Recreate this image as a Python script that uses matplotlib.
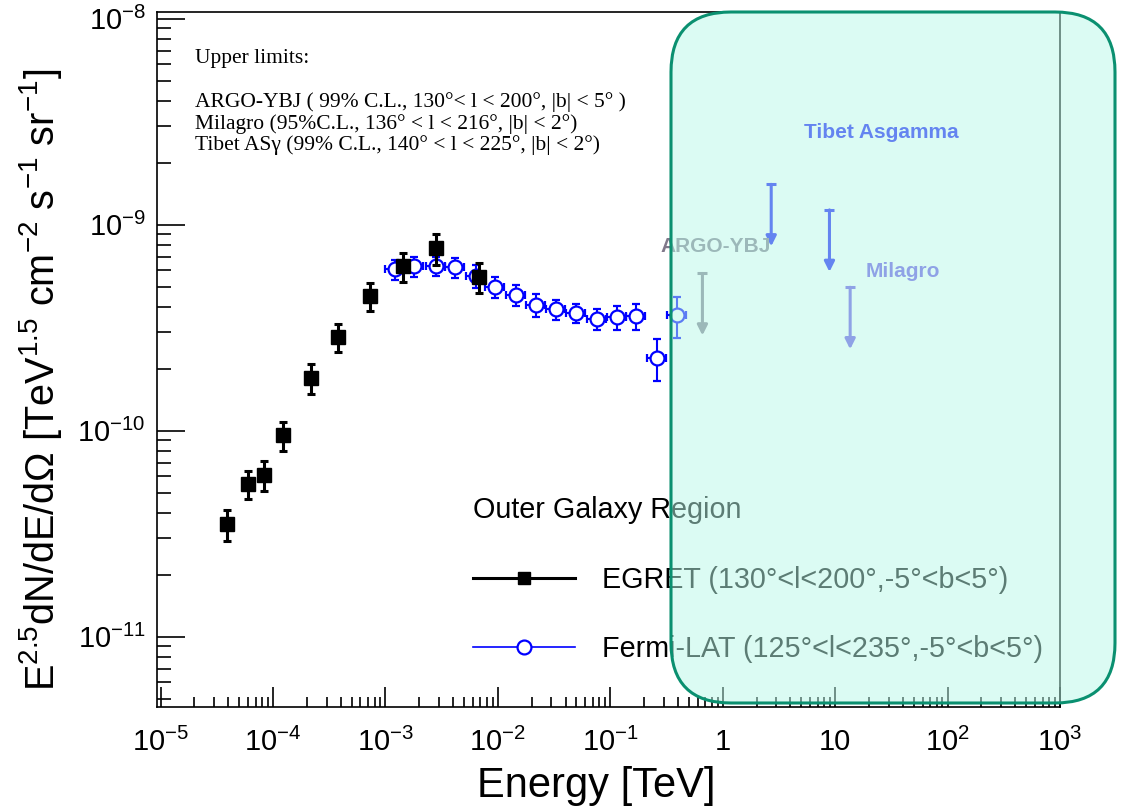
import numpy as np
import matplotlib
matplotlib.use("Agg")
import matplotlib.pyplot as plt
from matplotlib import font_manager
from matplotlib.lines import Line2D
from matplotlib.patches import FancyBboxPatch
from matplotlib.ticker import FixedLocator, FixedFormatter, LogLocator, NullFormatter

# EGRET (130<l<200, -5<b<5)
egret_e = [3.9e-5, 5.96e-5, 8.3e-5, 1.24e-4, 2.18e-4, 3.79e-4, 7.3e-4, 1.43e-3, 2.8e-3, 6.8e-3]
egret_flux = [3.52e-11, 5.5e-11, 6.1e-11, 9.5e-11, 1.8e-10, 2.85e-10, 4.5e-10, 6.3e-10, 7.7e-10, 5.6e-10]
egret_err = [0.6e-11, 0.85e-11, 1.0e-11, 1.5e-11, 0.3e-10, 0.45e-10, 0.7e-10, 1.0e-10, 1.3e-10, 0.95e-10]

# Fermi-LAT (125<l<235, -5<b<5)
fermi_e = [1.21e-3, 1.79e-3, 2.81e-3, 4.15e-3, 6.37e-3, 9.4e-3, 1.44e-2, 2.18e-2, 3.28e-2,
           4.94e-2, 7.59e-2, 0.114, 0.169, 0.259, 0.39]
fermi_flux = [6.07e-10, 6.30e-10, 6.30e-10, 6.21e-10, 5.64e-10, 5.0e-10, 4.56e-10, 4.08e-10, 3.88e-10,
              3.74e-10, 3.49e-10, 3.55e-10, 3.60e-10, 2.26e-10, 3.65e-10]
fermi_err = [0.68e-10, 0.7e-10, 0.65e-10, 0.68e-10, 0.72e-10, 0.6e-10, 0.55e-10, 0.52e-10, 0.42e-10,
             0.4e-10, 0.42e-10, 0.46e-10, 0.53e-10, 0.52e-10, 0.82e-10]
fermi_halfbin = 0.085  # half bin width in dex

# upper limits
ul_exp = ["ARGO-YBJ", "Tibet ASgamma", "Tibet ASgamma", "Milagro"]
ul_e = [0.66, 2.7, 8.9, 13.6]
ul_flux = [5.8e-10, 1.57e-9, 1.18e-9, 4.97e-10]
ul_colors = {"ARGO-YBJ": "#80788a", "Tibet ASgamma": "#1010f8", "Milagro": "#664ce4"}

xtick_vals = [1e-5, 1e-4, 1e-3, 1e-2, 1e-1, 1, 10, 1e2, 1e3]
xtick_labels = ["$10^{-5}$", "$10^{-4}$", "$10^{-3}$", "$10^{-2}$", "$10^{-1}$", "1", "10", "$10^{2}$", "$10^{3}$"]
ytick_vals = [1e-11, 1e-10, 1e-9, 1e-8]
ytick_labels = ["$10^{-11}$", "$10^{-10}$", "$10^{-9}$", "$10^{-8}$"]

names = {f.name for f in font_manager.fontManager.ttflist}
sans = "Liberation Sans Narrow" if "Liberation Sans Narrow" in names else "Liberation Sans"
plt.rcParams["font.family"] = [sans, "DejaVu Sans"]
plt.rcParams["mathtext.fontset"] = "custom"
plt.rcParams["mathtext.rm"] = sans
plt.rcParams["mathtext.it"] = sans + ":italic"
plt.rcParams["mathtext.bf"] = sans + ":bold"

fig = plt.figure(figsize=(11.32, 8.09), dpi=100)
ax = fig.add_axes([0.1387, 0.1261, 0.7977, 0.8591])
ax.set_xscale("log")
ax.set_yscale("log")
ax.set_xlim(9.3e-6, 1e3)
ax.set_ylim(4.56e-12, 1.078e-8)

fe = np.array(fermi_e)
xlo = fe - fe / 10 ** fermi_halfbin
xhi = fe * 10 ** fermi_halfbin - fe
ax.errorbar(fermi_e, fermi_flux, xerr=[xlo, xhi], yerr=fermi_err, fmt="o", color="blue",
            mfc="white", mec="blue", ms=10, mew=1.6, elinewidth=1.5, capsize=3, capthick=1.5, zorder=2)
ax.errorbar(egret_e, egret_flux, yerr=egret_err, fmt="s", color="black", ms=9.5,
            elinewidth=2.2, capsize=3, capthick=2.2, zorder=3)

for name, e, f in zip(ul_exp, ul_e, ul_flux):
    c = ul_colors[name]
    ax.annotate("", xy=(e, f * 0.5), xytext=(e, f),
                arrowprops=dict(arrowstyle="-|>,head_length=0.6,head_width=0.3", color=c,
                                lw=2.2, shrinkA=0, shrinkB=0, mutation_scale=10))
    ax.plot([e], [f], marker="_", ms=7, mew=2.2, color=c)

lab = dict(transform=ax.transAxes, ha="center", va="center", fontsize=15, fontweight="bold",
           family="Liberation Sans")
ax.text(0.802, 0.827, "Tibet Asgamma", color=ul_colors["Tibet ASgamma"], **lab)
ax.text(0.619, 0.662, "ARGO-YBJ", color=ul_colors["ARGO-YBJ"], **lab)
ax.text(0.826, 0.626, "Milagro", color=ul_colors["Milagro"], **lab)

serif = dict(transform=ax.transAxes, ha="left", va="baseline", fontsize=15.5, family="Liberation Serif")
ax.text(0.042, 0.927, "Upper limits:", **serif)
ax.text(0.042, 0.863, "ARGO-YBJ ( 99% C.L., 130°< l < 200°, |b| < 5° )", **serif)
ax.text(0.042, 0.832, "Milagro (95%C.L., 136° < l < 216°, |b| < 2°)", **serif)
ax.text(0.042, 0.801, "Tibet ASγ (99% C.L., 140° < l < 225°, |b| < 2°)", **serif)

ax.xaxis.set_major_locator(FixedLocator(xtick_vals))
ax.xaxis.set_major_formatter(FixedFormatter(xtick_labels))
ax.xaxis.set_minor_locator(LogLocator(base=10, subs=np.arange(2, 10), numticks=100))
ax.xaxis.set_minor_formatter(NullFormatter())
ax.yaxis.set_major_locator(FixedLocator(ytick_vals))
ax.yaxis.set_major_formatter(FixedFormatter(ytick_labels))
ax.yaxis.set_minor_locator(LogLocator(base=10, subs=np.arange(2, 10), numticks=100))
ax.yaxis.set_minor_formatter(NullFormatter())
ax.tick_params(axis="x", which="major", direction="in", length=14.4, width=1.2, labelsize=21, pad=15)
ax.tick_params(axis="x", which="minor", direction="in", length=7.2, width=1.2)
ax.tick_params(axis="y", which="major", direction="in", length=20, width=1.2, labelsize=21, pad=8)
ax.tick_params(axis="y", which="minor", direction="in", length=10, width=1.2)
for s in ax.spines.values():
    s.set_linewidth(1.2)

ax.set_xlabel("Energy [TeV]", fontsize=30)
ax.xaxis.set_label_coords(0.486, -0.085)
ax.set_ylabel("E$^{2.5}$dN/dE/dΩ [TeV$^{1.5}$ cm$^{-2}$ s$^{-1}$ sr$^{-1}$]", fontsize=28.5)
ax.yaxis.set_label_coords(-0.103, 0.47)

handles = [Line2D([], [], color="black", marker="s", ms=9, lw=2.2),
           Line2D([], [], color="blue", marker="o", mfc="white", mec="blue", ms=10, mew=1.6, lw=1.2)]
labels = ["EGRET (130°<l<200°,-5°<b<5°)", "Fermi-LAT (125°<l<235°,-5°<b<5°)"]
ax.legend(handles, labels, title="Outer Galaxy Region", loc="upper left", bbox_to_anchor=(0.35, 0.303),
          frameon=False, fontsize=20.7, title_fontsize=20.7, handlelength=3.55, handletextpad=0.94,
          labelspacing=1.44, alignment="left", borderpad=0, borderaxespad=0)

box = FancyBboxPatch((671 / 1132, 1 - 703 / 809), (1115 - 671) / 1132, (703 - 12) / 809,
                     boxstyle="round,pad=0,rounding_size=%f" % (60 / 1132), mutation_aspect=1132 / 809,
                     transform=fig.transFigure, facecolor="#b9f9e9", alpha=0.5, edgecolor="none", zorder=5)
fig.add_artist(box)
edge = FancyBboxPatch((671 / 1132, 1 - 703 / 809), (1115 - 671) / 1132, (703 - 12) / 809,
                      boxstyle="round,pad=0,rounding_size=%f" % (60 / 1132), mutation_aspect=1132 / 809,
                      transform=fig.transFigure, facecolor="none", edgecolor="#0a9070", lw=2.2, zorder=6)
fig.add_artist(edge)

fig.savefig("out.png", dpi=100)
